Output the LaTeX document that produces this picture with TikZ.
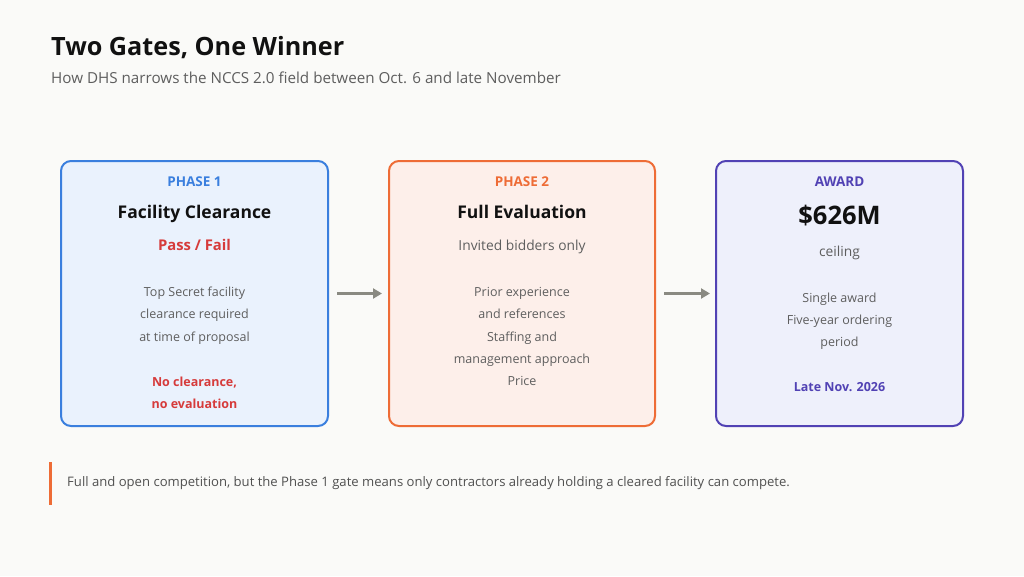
\documentclass[tikz,border=0pt]{standalone}
\usepackage{fontspec}
\setmainfont{Open Sans}
\usetikzlibrary{arrows.meta}
\definecolor{bg}{HTML}{FAFAF8}
\definecolor{blueB}{HTML}{3A7FDE}
\definecolor{blueF}{HTML}{EAF2FD}
\definecolor{orgB}{HTML}{EE6C36}
\definecolor{orgF}{HTML}{FDEFEA}
\definecolor{purB}{HTML}{5142B4}
\definecolor{purF}{HTML}{EEF0FB}
\definecolor{redT}{HTML}{D63B3B}
\definecolor{grayT}{HTML}{5E5E5E}
\definecolor{darkT}{HTML}{111111}
\definecolor{arrowC}{HTML}{8A8A82}
\tikzset{
  card/.style={rounded corners=10pt, line width=2pt},
  txt/.style={anchor=base, inner sep=0},
  lbl/.style={txt, font=\bfseries\fontsize{13.5}{16}\selectfont},
  ttl/.style={txt, font=\bfseries\fontsize{17.5}{21}\selectfont, text=darkT},
  sub/.style={txt, font=\fontsize{13.8}{16}\selectfont, text=grayT},
  body/.style={txt, font=\fontsize{12.5}{15}\selectfont, text=grayT},
  bodyb/.style={txt, font=\bfseries\fontsize{12.5}{15}\selectfont},
  flow/.style={draw=arrowC, line width=2.2pt, -{Triangle[length=9pt,width=10pt]}}
}
\begin{document}
\begin{tikzpicture}[x=1pt,y=-1pt]
\useasboundingbox (0,0) rectangle (1024,576);
\fill[bg] (0,0) rectangle (1024,576);
% title
\node[anchor=base west, inner sep=0, font=\bfseries\fontsize{25.2}{29}\selectfont, text=darkT] (title) at (51,55) {Two Gates, One Winner};
\node[anchor=base west, inner sep=0, font=\fontsize{15.2}{18}\selectfont, text=grayT] (subtitle) at (51,83.5) {How DHS narrows the NCCS 2.0 field between Oct. 6 and late November};
% cards
\path[card, draw=blueB, fill=blueF] (61,161) rectangle (328,426);
\node (c1) at (194.5,293.5) {};
\path[card, draw=orgB, fill=orgF] (389,161) rectangle (655,426);
\node (c2) at (522,293.5) {};
\path[card, draw=purB, fill=purF] (716,161) rectangle (963,426);
\node (c3) at (839.5,293.5) {};
\coordinate (c1e) at (337,293.5);
\coordinate (c2w) at (382,293.5);
\coordinate (c2e) at (664,293.5);
\coordinate (c3w) at (710,293.5);
\draw[flow] (c1e) -- (c2w);
\draw[flow] (c2e) -- (c3w);
% card 1
\node[lbl, text=blueB] (p1) at (194.5,186.8) {PHASE 1};
\node[ttl] (t1) at (194.5,218.3) {Facility Clearance};
\node[txt, font=\bfseries\fontsize{14.8}{17}\selectfont, text=redT] (s1) at (194.5,250.3) {Pass / Fail};
\node[body] (b1a) at (194.5,296.5) {Top Secret facility};
\node[body] (b1b) at (194.5,318.5) {clearance required};
\node[body] (b1c) at (194.5,341.5) {at time of proposal};
\node[bodyb, text=redT] (n1a) at (194.5,386.5) {No clearance,};
\node[bodyb, text=redT] (n1b) at (194.5,408.5) {no evaluation};
% card 2
\node[lbl, text=orgB] (p2) at (522,186.8) {PHASE 2};
\node[ttl] (t2) at (522,218.3) {Full Evaluation};
\node[sub] (s2) at (522,250) {Invited bidders only};
\node[body] (b2a) at (522,296.5) {Prior experience};
\node[body] (b2b) at (522,318.5) {and references};
\node[body] (b2c) at (522,341.5) {Staffing and};
\node[body] (b2d) at (522,363.5) {management approach};
\node[body] (b2e) at (522,385.5) {Price};
% card 3
\node[lbl, text=purB] (p3) at (839.5,186.8) {AWARD};
\node[txt, font=\bfseries\fontsize{25.5}{29}\selectfont, text=darkT] (t3) at (839.5,224.2) {\$626M};
\node[sub] (s3) at (839.5,256) {ceiling};
\node[body] (b3a) at (839.5,302.5) {Single award};
\node[body] (b3b) at (839.5,324.5) {Five-year ordering};
\node[body] (b3c) at (839.5,346.5) {period};
\node[bodyb, text=purB] (l3) at (839.5,391.5) {Late Nov. 2026};
% footer
\fill[orgB] (49,462) rectangle (52,505);
\node[anchor=base west, inner sep=0, font=\fontsize{13.1}{15}\selectfont, text=grayT!85!black] (foot) at (67,486.7) {Full and open competition, but the Phase 1 gate means only contractors already holding a cleared facility can compete.};
\end{tikzpicture}
\end{document}
